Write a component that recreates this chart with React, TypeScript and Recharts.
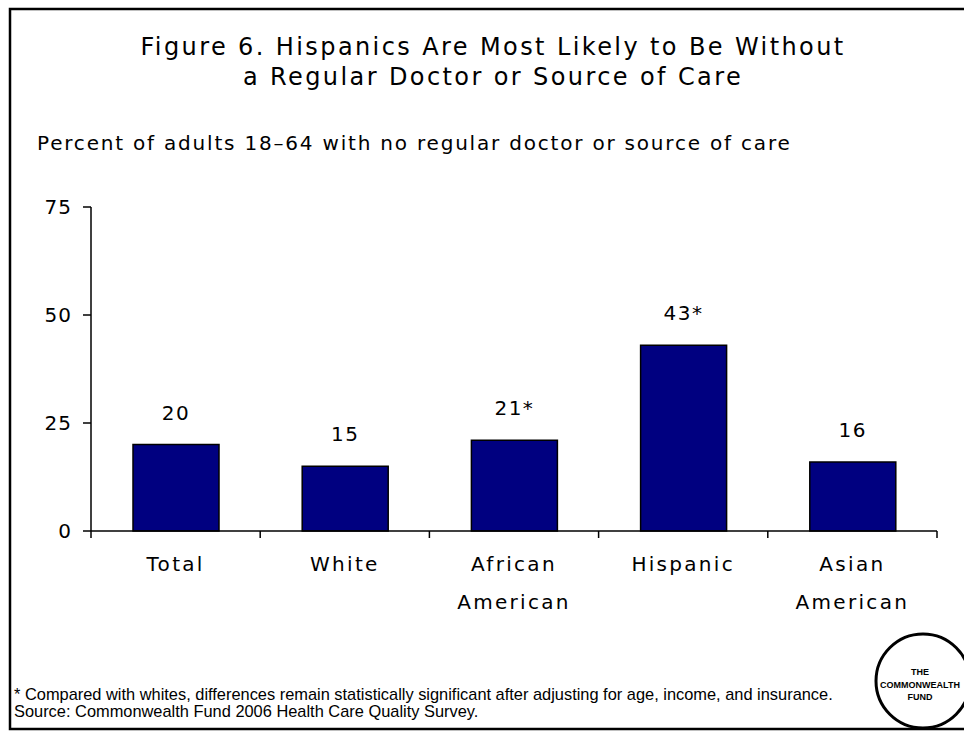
import React from 'react';
import { BarChart, Bar, XAxis, YAxis, LabelList } from 'recharts';

const categories = ['Total', 'White', 'African American', 'Hispanic', 'Asian American'];
const values = [20, 15, 21, 43, 16];
const valueLabels = ['20', '15', '21*', '43*', '16'];
const yTicks = [0, 25, 50, 75];

const titleLines = [
  'Figure 6. Hispanics Are Most Likely to Be Without',
  'a Regular Doctor or Source of Care',
];
const subtitle = 'Percent of adults 18\u201364 with no regular doctor or source of care';
const footnotes = [
  '* Compared with whites, differences remain statistically significant after adjusting for age, income, and insurance.',
  'Source: Commonwealth Fund 2006 Health Care Quality Survey.',
];
const logoLines = ['THE', 'COMMONWEALTH', 'FUND'];

const data = categories.map((c, i) => ({ name: c, value: values[i], label: valueLabels[i] }));

const FONT = '"DejaVu Sans", Verdana, sans-serif';
const W = 964;
const H = 731;

function XTick(props: any) {
  const { x, y, payload, index } = props;
  const off = payload && payload.offset ? payload.offset : 84.6;
  const words = String(payload.value).split(' ');
  return (
    <g>
      <line x1={x - off} x2={x - off} y1={y} y2={y + 7} stroke="#000" strokeWidth={1.5} />
      {index === categories.length - 1 && (
        <line x1={x + off} x2={x + off} y1={y} y2={y + 7} stroke="#000" strokeWidth={1.5} />
      )}
      {words.map((w, i) => (
        <text
          key={i}
          x={x}
          y={y + 40 + i * 38}
          textAnchor="middle"
          fontFamily={FONT}
          fontSize={20}
          letterSpacing={2.3}
          fill="#000"
        >
          {w}
        </text>
      ))}
    </g>
  );
}

export default function App() {
  return (
    <div style={{ position: 'absolute', left: 0, top: 0, width: W, height: H, background: '#fff' }}>
      <BarChart
        width={W}
        height={H}
        data={data}
        margin={{ top: 207, right: 27, bottom: 120, left: 31 }}
        barSize={86}
      >
        <YAxis
          domain={[0, 75]}
          ticks={yTicks}
          width={60}
          axisLine={{ stroke: '#000', strokeWidth: 1.5 }}
          tickLine={{ stroke: '#000', strokeWidth: 1.5 }}
          tickSize={8}
          tickMargin={11}
          tick={{ fill: '#000', fontFamily: FONT, fontSize: 20, letterSpacing: 1 }}
          interval={0}
        />
        <XAxis
          dataKey="name"
          height={80}
          axisLine={{ stroke: '#000', strokeWidth: 1.5 }}
          tickLine={false}
          tickSize={0}
          tickMargin={0}
          interval={0}
          tick={<XTick />}
        />
        <Bar dataKey="value" fill="#000080" stroke="#000" strokeWidth={1.5} isAnimationActive={false}>
          <LabelList
            dataKey="label"
            position="top"
            offset={25}
            fill="#000"
            fontFamily={FONT}
            fontSize={20}
            letterSpacing={1.5}
          />
        </Bar>
      </BarChart>
      <svg
        width={W}
        height={H}
        style={{ position: 'absolute', left: 0, top: 0, pointerEvents: 'none' }}
      >
        <rect x={10} y={9} width={W + 20} height={720} fill="none" stroke="#000" strokeWidth={2.5} />
        {titleLines.map((t, i) => (
          <text
            key={i}
            x={493}
            y={55 + i * 30}
            textAnchor="middle"
            fontFamily={FONT}
            fontSize={24}
            letterSpacing={2.4}
            fill="#000"
          >
            {t}
          </text>
        ))}
        <text x={37} y={150} fontFamily={FONT} fontSize={20} letterSpacing={1.8} fill="#000">
          {subtitle}
        </text>
        {footnotes.map((t, i) => (
          <text
            key={i}
            x={14}
            y={700 + i * 17}
            fontFamily='"Liberation Sans", Arial, sans-serif'
            fontSize={16.4}
            fill="#000"
          >
            {t}
          </text>
        ))}
        <circle cx={923} cy={681} r={47} fill="#fff" stroke="#000" strokeWidth={3} />
        {logoLines.map((t, i) => (
          <text
            key={i}
            x={920}
            y={675 + i * 12.5}
            textAnchor="middle"
            fontFamily='"Liberation Sans", Arial, sans-serif'
            fontWeight="bold"
            fontSize={9}
            fill="#000"
          >
            {t}
          </text>
        ))}
      </svg>
    </div>
  );
}
